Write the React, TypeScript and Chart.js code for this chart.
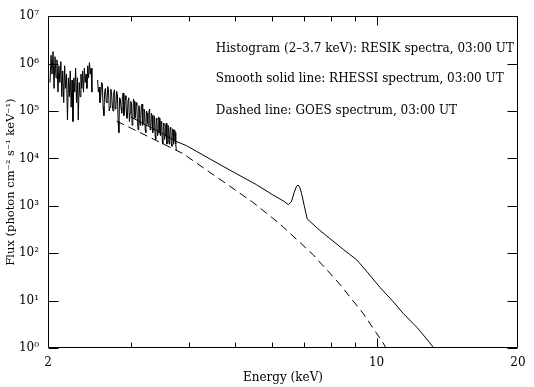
import React, { useEffect, useRef } from "react";
import { Chart, registerables } from "chart.js";

Chart.register(...registerables);

// RESIK histogram, first channel block (keV, photon cm^-2 s^-1 keV^-1)
const resikEnergyA = [
  2.02, 2.03, 2.04, 2.05, 2.06, 2.07, 2.08, 2.09, 2.1, 2.11, 2.12, 2.13, 2.14, 2.15, 2.16, 2.17,
  2.18, 2.19, 2.2, 2.21, 2.22, 2.23, 2.24, 2.25, 2.26, 2.27, 2.28, 2.29, 2.3, 2.31, 2.32, 2.33,
  2.34, 2.35, 2.36, 2.37, 2.38, 2.39, 2.4, 2.41, 2.42, 2.43, 2.44, 2.45, 2.46, 2.47, 2.48,
];
const resikFluxA = [
  4e5, 1.5e6, 6e5, 1.8e6, 3e5, 1.4e6, 5e5, 1.2e6, 2.5e5, 9e5, 4e5, 1.1e6, 2e5, 7e5, 1.5e5, 9e5,
  3e5, 6e5, 6.5e4, 5e5, 2e5, 7e5, 1.2e5, 4.5e5, 6e4, 5e5, 2.5e5, 8e5, 1.5e5, 5e5, 6.5e4, 4e5,
  2e5, 6e5, 3e5, 7e5, 2.5e5, 8e5, 4e5, 6e5, 3e5, 9e5, 5e5, 1.05e6, 6e5, 8e5, 2.5e5,
];
const resikGapEnergy = 2.515;
// RESIK histogram, second channel block
const resikEnergyB = [
  2.55, 2.56, 2.57, 2.58, 2.59, 2.6, 2.61, 2.62, 2.63, 2.64,
  2.65, 2.66, 2.67, 2.68, 2.69, 2.7, 2.71, 2.72, 2.73, 2.74,
  2.75, 2.76, 2.77, 2.78, 2.79, 2.8, 2.81, 2.82, 2.83, 2.84,
  2.85, 2.86, 2.87, 2.88, 2.89, 2.9, 2.91, 2.92, 2.93, 2.94,
  2.95, 2.96, 2.97, 2.98, 2.99, 3.0, 3.01, 3.02, 3.03, 3.04,
  3.05, 3.06, 3.07, 3.08, 3.09, 3.1, 3.11, 3.12, 3.13, 3.14,
  3.15, 3.16, 3.17, 3.18, 3.19, 3.2, 3.21, 3.22, 3.23, 3.24,
  3.25, 3.26, 3.27, 3.28, 3.29, 3.3, 3.31, 3.32, 3.33, 3.34,
  3.35, 3.36, 3.37, 3.38, 3.39, 3.4, 3.41, 3.42, 3.43, 3.44,
  3.45, 3.46, 3.47, 3.48, 3.49, 3.5, 3.51, 3.52, 3.53, 3.54,
  3.55, 3.56, 3.57, 3.58, 3.59, 3.6, 3.61, 3.62, 3.63, 3.64,
  3.65, 3.66, 3.67, 3.68, 3.69, 3.7, 3.71, 3.72, 3.73, 3.74,
  3.75,
];
const resikFluxB = [
  4.5e5, 2.5e5, 3.2e5, 1.5e5, 2e5, 4e5, 3.8e5, 1.2e5, 8e4, 2.6e5,
  3e5, 1.6e5, 1.5e5, 3.3e5, 2.8e5, 1e5, 1.2e5, 2.9e5, 2.5e5, 1.4e5,
  1e5, 2.4e5, 2.8e5, 1.1e5, 1.3e5, 2.6e5, 2.2e5, 6e4, 3.5e4, 1.9e5,
  1.8e5, 1.2e5, 9e4, 2e5, 2.4e5, 8e4, 1e5, 2.1e5, 1.7e5, 7e4,
  7e4, 1.7e5, 1.9e5, 6e4, 9e4, 1.6e5, 1.5e5, 5e4, 6e4, 1.8e5,
  1.6e5, 7e4, 8e4, 1.5e5, 1.3e5, 6e4, 4e4, 1.3e5, 1.2e5, 5e4,
  7e4, 1.3e5, 1.4e5, 5e4, 6e4, 1.1e5, 1e5, 4e4, 3.5e4, 1e5,
  9e4, 5.5e4, 5e4, 1e5, 1.1e5, 4e4, 4.5e4, 9e4, 8e4, 3.5e4,
  4e4, 8e4, 7.5e4, 3e4, 2.5e4, 7e4, 6.5e4, 3e4, 3.5e4, 7.5e4,
  7e4, 3.5e4, 3e4, 6e4, 5.5e4, 2.5e4, 2e4, 5.5e4, 5e4, 2.5e4,
  3e4, 5e4, 5.5e4, 2e4, 2.2e4, 5e4, 4.5e4, 2e4, 2.5e4, 4.5e4,
  4.2e4, 2e4, 1.8e4, 4.2e4, 4e4, 2e4, 2.5e4, 4e4, 3.5e4, 2e4,
  1.5e4,
];

// RHESSI smooth spectrum
const rhessiEnergy = [
  3.0, 3.4, 3.74, 3.94, 4.4, 4.87, 5.55, 6.0, 6.35, 6.49, 6.59, 6.68, 6.76, 6.81, 6.86, 6.92,
  7.02, 7.12, 7.5, 7.95, 8.5, 9.07, 9.6, 10.17, 10.8, 11.4, 12.2, 12.99, 13.6,
];
const rhessiFlux = [
  7.5e4, 3.9e4, 2.3e4, 1.86e4, 1.0e4, 5.7e3, 2.8e3, 1.73e3, 1.25e3, 1.06e3, 1.22e3, 1.9e3, 2.6e3,
  2.74e3, 2.5e3, 1.9e3, 1.0e3, 530, 330, 205, 120, 73, 38, 19, 10, 5.35, 2.7, 1.28, 0.7,
];

// GOES dashed spectrum
const goesEnergy = [
  2.8, 3.03, 3.4, 3.87, 4.3, 4.87, 5.46, 6.22, 6.8, 7.33, 7.8, 8.35, 8.85, 9.37, 9.85, 10.33, 10.6,
];
const goesFlux = [
  6.1e4, 4.17e4, 2.38e4, 1.27e4, 6.15e3, 2.61e3, 1.18e3, 419, 186, 93, 47, 22.3, 10.8, 5.35, 2.55,
  1.28, 0.8,
];

const xMin = 2;
const xMax = 20;
const yMin = 1;
const yMax = 1e7;
const xLabelTicks = [2, 10, 20];
const xMinorTicks = [3, 4, 5, 6, 7, 8, 9];
const xMajorInner = [10];
const yDecades = [1, 10, 100, 1e3, 1e4, 1e5, 1e6, 1e7];
const yTickLabels = ["10⁰", "10¹", "10²", "10³", "10⁴", "10⁵", "10⁶", "10⁷"];

const xTitle = "Energy (keV)";
const yTitle = "Flux (photon cm⁻² s⁻¹ keV⁻¹)";

const notes = [
  "Histogram (2–3.7 keV): RESIK spectra, 03:00 UT",
  "Smooth solid line: RHESSI spectrum, 03:00 UT",
  "Dashed line: GOES spectrum, 03:00 UT",
];
const noteEnergy = 4.55;
const noteFlux = [2.0e6, 4.7e5, 1.02e5];

const FONT = "DejaVu Serif";

const framePlugin = {
  id: "idlFrame",
  afterDatasetsDraw(chart: any) {
    const { ctx, chartArea: a, scales } = chart;
    const x = scales.x;
    const y = scales.y;
    ctx.save();
    ctx.strokeStyle = "#000";
    ctx.lineWidth = 1;
    const L = Math.round(a.left) + 0.5;
    const R = Math.round(a.right) - 0.5;
    const T = Math.round(a.top) + 0.5;
    const B = Math.round(a.bottom) - 0.5;
    ctx.beginPath();
    ctx.rect(L, T, R - L, B - T);
    ctx.stroke();
    ctx.beginPath();
    yDecades.forEach((v) => {
      const py = Math.round(y.getPixelForValue(v)) + 0.5;
      ctx.moveTo(L, py);
      ctx.lineTo(L + 10, py);
      ctx.moveTo(R, py);
      ctx.lineTo(R - 10, py);
    });
    const xt = (vals: number[], len: number) =>
      vals.forEach((v) => {
        const px = Math.round(x.getPixelForValue(v)) + 0.5;
        ctx.moveTo(px, B);
        ctx.lineTo(px, B - len);
        ctx.moveTo(px, T);
        ctx.lineTo(px, T + len);
      });
    xt(xMinorTicks, 5);
    xt(xMajorInner, 9);
    ctx.stroke();

    ctx.fillStyle = "#000";
    ctx.font = `12px "${FONT}"`;
    ctx.textBaseline = "middle";
    ctx.textAlign = "left";
    notes.forEach((t, i) => {
      ctx.fillText(t, x.getPixelForValue(noteEnergy), y.getPixelForValue(noteFlux[i]));
    });
    ctx.restore();
  },
};

export default function App() {
  const ref = useRef<HTMLCanvasElement | null>(null);

  useEffect(() => {
    if (!ref.current) return;
    const histogram = [
      ...resikEnergyA.map((e, i) => ({ x: e, y: resikFluxA[i] })),
      { x: resikGapEnergy, y: null },
      ...resikEnergyB.map((e, i) => ({ x: e, y: resikFluxB[i] })),
    ];
    const rhessi = rhessiEnergy.map((e, i) => ({ x: e, y: rhessiFlux[i] }));
    const goes = goesEnergy.map((e, i) => ({ x: e, y: goesFlux[i] }));

    const chart = new Chart(ref.current, {
      type: "line",
      data: {
        datasets: [
          {
            label: "RESIK",
            data: histogram as any,
            borderColor: "#000",
            borderWidth: 1,
            pointRadius: 0,
            spanGaps: false,
            fill: false,
          },
          {
            label: "RHESSI",
            data: rhessi,
            borderColor: "#000",
            borderWidth: 1,
            pointRadius: 0,
            tension: 0,
            fill: false,
          },
          {
            label: "GOES",
            data: goes,
            borderColor: "#000",
            borderWidth: 1,
            borderDash: [8, 5],
            pointRadius: 0,
            tension: 0,
            fill: false,
          },
        ],
      },
      options: {
        animation: false,
        responsive: false,
        devicePixelRatio: 1,
        layout: { padding: { left: 0, top: 10, right: 16, bottom: 0 } },
        plugins: {
          legend: { display: false },
          tooltip: { enabled: false },
        },
        scales: {
          x: {
            type: "logarithmic",
            min: xMin,
            max: xMax,
            afterBuildTicks: (s: any) => {
              s.ticks = xLabelTicks.map((v) => ({ value: v }));
            },
            afterFit: (s: any) => {
              s.height = 39;
              s.paddingLeft = 0;
              s.paddingRight = 0;
            },
            ticks: {
              autoSkip: false,
              maxRotation: 0,
              color: "#000",
              font: { family: FONT, size: 12 },
              padding: 8,
              callback: (v: any) => String(v),
            },
            grid: { display: false, drawTicks: false },
            border: { display: false },
            title: {
              display: true,
              text: xTitle,
              color: "#000",
              font: { family: FONT, size: 12 },
              padding: { top: 0, bottom: 2 },
            },
          },
          y: {
            type: "logarithmic",
            min: yMin,
            max: yMax,
            afterBuildTicks: (s: any) => {
              s.ticks = yDecades.map((v) => ({ value: v }));
            },
            afterFit: (s: any) => {
              s.width = 48;
            },
            ticks: {
              autoSkip: false,
              color: "#000",
              font: { family: FONT, size: 12 },
              padding: 9,
              callback: (v: any) => yTickLabels[Math.round(Math.log10(Number(v)))],
            },
            grid: { display: false, drawTicks: false },
            border: { display: false },
            title: {
              display: true,
              text: yTitle,
              color: "#000",
              font: { family: FONT, size: 11.5 },
              padding: { top: 4, bottom: 0 },
            },
          },
        },
      },
      plugins: [framePlugin],
    } as any);
    return () => chart.destroy();
  }, []);

  return (
    <div style={{ position: "absolute", left: 0, top: 0, width: 534, height: 387, background: "#fff" }}>
      <canvas ref={ref} width={534} height={387} />
    </div>
  );
}
